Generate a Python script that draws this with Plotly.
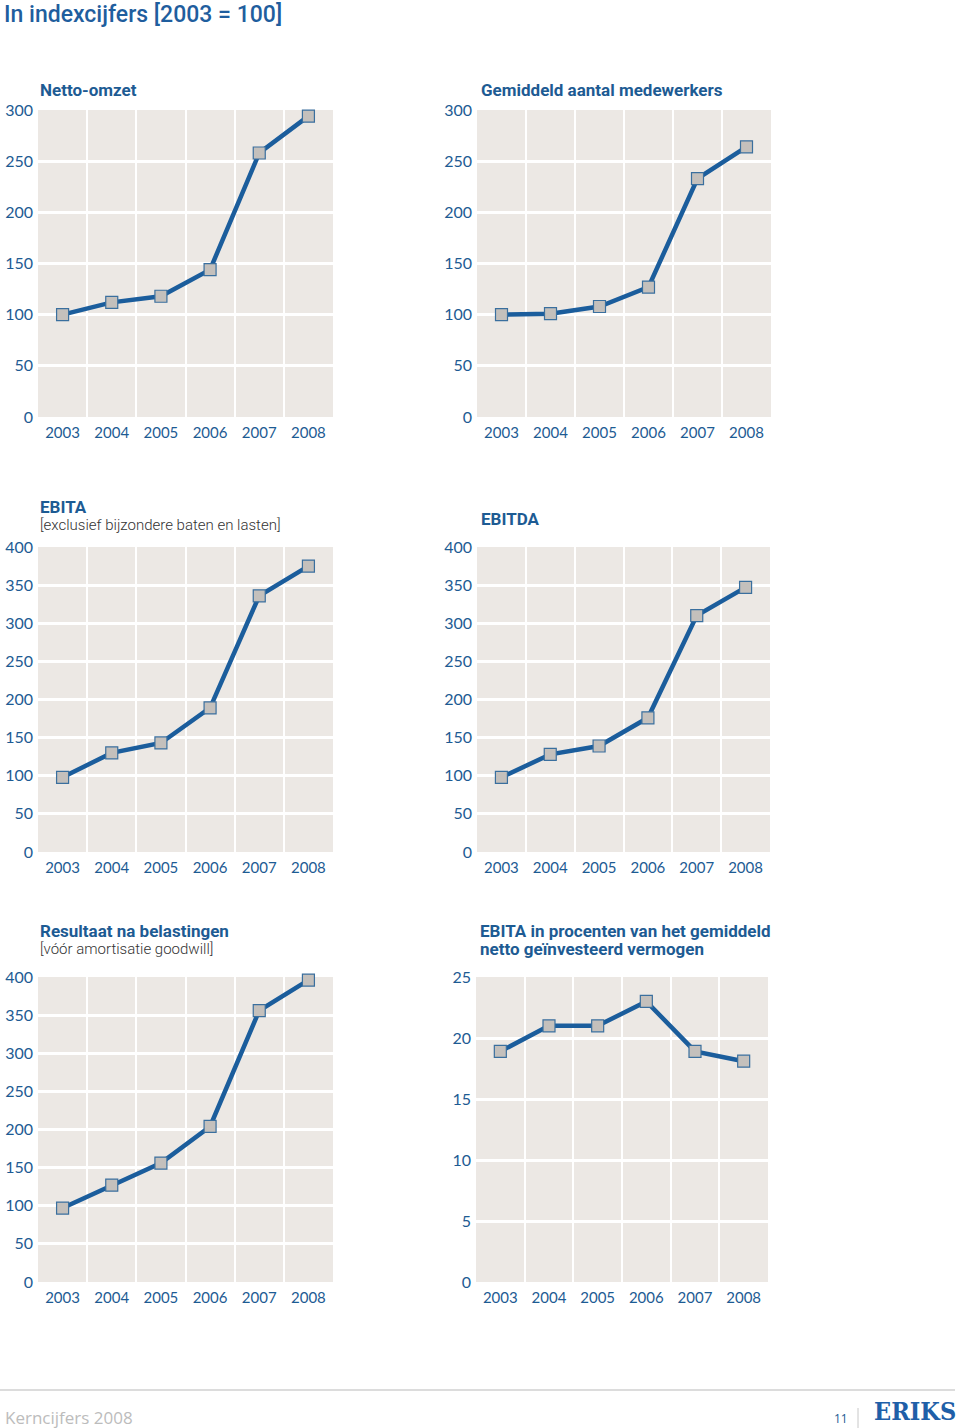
import plotly.graph_objects as go

W, H = 960, 1428

years = ["2003", "2004", "2005", "2006", "2007", "2008"]
netto_omzet = [100, 112, 118, 144, 258, 294]
medewerkers = [100, 101, 108, 127, 233, 264]
ebita = [98, 130, 143, 189, 336, 375]
ebitda = [98, 128, 139, 176, 310, 347]
resultaat = [97, 127, 156, 204, 356, 396]
ebita_pct = [18.9, 21.0, 21.0, 23.0, 18.9, 18.1]

ticks_300 = [0, 50, 100, 150, 200, 250, 300]
ticks_400 = [0, 50, 100, 150, 200, 250, 300, 350, 400]
ticks_pct = [0, 5, 10, 15, 20, 25]

main_title = "In indexcijfers [2003 = 100]"
panel_titles = [
    (["Netto-omzet"], None),
    (["Gemiddeld aantal medewerkers"], None),
    (["EBITA"], "[exclusief bijzondere baten en lasten]"),
    (["EBITDA"], None),
    (["Resultaat na belastingen"], "[vóór amortisatie goodwill]"),
    (["EBITA in procenten van het gemiddeld", "netto geïnvesteerd vermogen"], None),
]

BLUE = "#1b5d9c"
TXT = "#1d5b93"
BG = "#ece8e4"


def X(px):
    return px / W


def Y(py):
    return 1 - py / H


# panel boxes in page pixels: x0, x1, y0(top), y1(bottom)
boxes = [
    (38, 333, 110, 417),
    (477, 771, 110, 417),
    (38, 333, 547, 852),
    (477, 770, 547, 852),
    (38, 333, 977, 1282),
    (476, 768, 977, 1282),
]
series = [netto_omzet, medewerkers, ebita, ebitda, resultaat, ebita_pct]
yticks = [ticks_300, ticks_300, ticks_400, ticks_400, ticks_400, ticks_pct]

fig = go.Figure()
layout = dict(
    width=W, height=H, margin=dict(l=0, r=0, t=0, b=0, pad=0, autoexpand=False),
    paper_bgcolor="white", plot_bgcolor=BG, showlegend=False,
)

for i, (vals, tv, box) in enumerate(zip(series, yticks, boxes)):
    n = i + 1
    xa = "x" if n == 1 else f"x{n}"
    ya = "y" if n == 1 else f"y{n}"
    fig.add_trace(go.Scatter(
        x=years, y=vals, xaxis=xa, yaxis=ya, mode="lines+markers",
        line=dict(color=BLUE, width=4.5),
        marker=dict(symbol="square", size=12, color="#c4c0bc",
                    line=dict(color="#3a6f9e", width=1.2)),
        cliponaxis=False, hoverinfo="skip",
    ))
    x0, x1, y0, y1 = box
    xkey = "xaxis" if n == 1 else f"xaxis{n}"
    ykey = "yaxis" if n == 1 else f"yaxis{n}"
    layout[xkey] = dict(
        domain=[X(x0), X(x1)], anchor=ya, type="category",
        range=[-0.5, 5.5], tickson="boundaries", showgrid=True,
        gridcolor="white", gridwidth=2, ticks="", showline=False,
        zeroline=False, fixedrange=True, ticklabelstandoff=5, automargin=False,
        tickfont=dict(family="Lato", size=15, color=TXT),
    )
    layout[ykey] = dict(
        domain=[Y(y1), Y(y0)], anchor=xa,
        range=[0, tv[-1]], tickvals=tv, showgrid=True,
        gridcolor="white", gridwidth=3, ticks="", showline=False,
        zeroline=False, fixedrange=True, ticklabelstandoff=4, automargin=False,
        tickfont=dict(family="Lato", size=16, color=TXT),
    )

fig.update_layout(**layout)

anns = []
anns.append(dict(text=main_title, x=X(3), y=1, xref="paper", yref="paper",
                 xanchor="left", yanchor="top", showarrow=False, borderpad=0,
                 font=dict(family="Roboto", size=23, weight=500, color="#1f5e9e")))

title_pos = [(38, 90), (479, 90), (38, 507), (479, 519), (38, 931), (478, 931)]
for (lines, sub), (px, py) in zip(panel_titles, title_pos):
    for k, t in enumerate(lines):
        anns.append(dict(text="<b>" + t + "</b>",
                         x=X(px), y=Y(py + 18 * k), xref="paper", yref="paper",
                         xanchor="left", yanchor="middle", align="left", showarrow=False,
                         font=dict(family="Roboto", size=17, color=TXT)))
    if sub:
        anns.append(dict(text=sub, x=X(px), y=Y(py + 18), xref="paper", yref="paper",
                         xanchor="left", yanchor="middle", showarrow=False,
                         font=dict(family="Roboto", size=15, weight=300, color="#333333")))

# footer
anns.append(dict(text="Kerncijfers 2008", x=X(3), y=Y(1417), xref="paper", yref="paper",
                 xanchor="left", yanchor="middle", showarrow=False,
                 font=dict(family="Open Sans", size=17, color="#bcbcbc")))
anns.append(dict(text="11", x=X(850), y=Y(1418), xref="paper", yref="paper",
                 xanchor="right", yanchor="middle", showarrow=False,
                 font=dict(family="Open Sans", size=12, color=TXT)))
anns.append(dict(text="<b>ERIKS</b>", x=X(915), y=Y(1411), xref="paper", yref="paper",
                 xanchor="center", yanchor="middle", showarrow=False,
                 font=dict(family="DejaVu Serif Condensed, DejaVu Serif", size=25, color="#1f5fa8")))

shapes = [
    dict(type="line", xref="paper", yref="paper", x0=0, x1=X(955),
         y0=Y(1390), y1=Y(1390), line=dict(color="#dcdcdc", width=2)),
    dict(type="line", xref="paper", yref="paper", x0=X(858), x1=X(858),
         y0=Y(1408), y1=0, line=dict(color="#c8c8c8", width=1)),
]

fig.update_layout(annotations=anns, shapes=shapes)
fig.write_html("out.html", config={"displayModeBar": False},
               post_script="document.body.style.margin='0';document.body.style.padding='0';")
